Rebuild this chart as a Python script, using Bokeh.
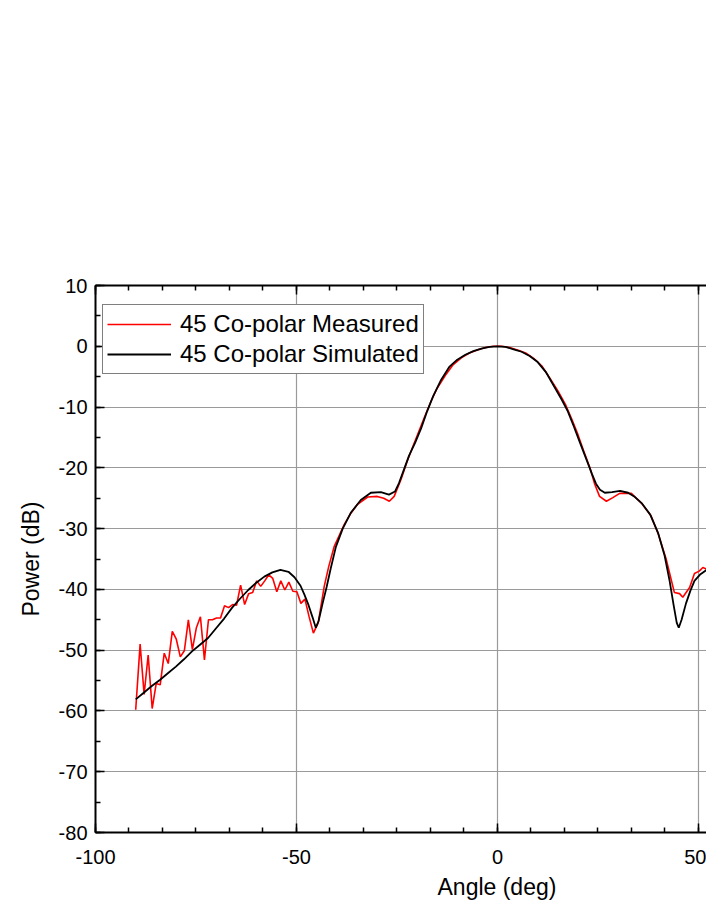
from bokeh.plotting import figure
from bokeh.models import (ColumnDataSource, LinearAxis, SingleIntervalTicker, Legend, LegendItem, Title,
                          Range1d, CustomJSTickFormatter)
from bokeh.embed import file_html
from bokeh.resources import INLINE

# ---- data ----
sim_angle = [-90, -88, -86, -84, -82, -80, -78, -76, -74, -72, -70, -68, -66, -64, -62, -60, -58, -56, -54,
             -52, -50.5, -49, -48, -47, -46, -45.2, -44.5, -43.5, -42.5, -41.5, -40.2, -38.5, -36.5, -34,
             -31.5, -29, -27, -25.5, -24.5, -23.5, -22, -20.5, -19, -17.5, -16, -14, -12, -10, -8, -6, -4,
             -2, 0, 2, 4, 6, 8, 10, 12, 14, 16, 17.5, 19, 20.5, 22, 23.5, 24.5, 25.5, 26.7, 28.5, 30.5,
             32.5, 34, 36, 38, 40, 41.6, 42.8, 43.8, 44.6, 45.1, 45.8, 46.9, 48, 49, 50.5, 52]
sim_power = [-58.1, -57.0, -55.9, -54.9, -53.8, -52.7, -51.5, -50.2, -49.1, -48.0, -46.4, -44.8, -43.0,
             -41.5, -40.1, -38.9, -37.9, -37.2, -36.8, -37.1, -38.0, -39.4, -40.9, -42.6, -44.6, -46.3,
             -45.2, -42.3, -39.6, -36.6, -33.0, -30.0, -27.4, -25.3, -24.1, -24.0, -24.4, -23.9, -22.5,
             -20.7, -18.0, -15.9, -13.5, -10.7, -8.2, -5.5, -3.4, -2.2, -1.4, -0.8, -0.4, -0.1, 0.0, -0.1,
             -0.5, -0.9, -1.6, -2.6, -4.2, -6.5, -8.8, -10.7, -13.2, -15.8, -18.4, -21.0, -22.6, -23.6,
             -24.1, -24.0, -23.8, -24.1, -24.7, -25.9, -27.7, -30.8, -34.5, -38.5, -42.5, -45.5, -46.3,
             -45.0, -42.3, -40.2, -38.6, -37.5, -36.8]

meas_angle = [-90, -88.9, -87.9, -86.9, -85.9, -84.9, -83.9, -82.9, -81.9, -80.9, -79.9, -78.9, -77.9,
              -76.9, -75.9, -74.9, -73.9, -72.9, -71.9, -70.9, -69.9, -68.9, -67.9, -66.9, -65.9, -64.9,
              -63.9, -62.9, -61.9, -60.9, -59.9, -58.9, -57.9, -56.9, -55.9, -54.9, -53.9, -52.9, -51.9,
              -50.9, -49.9, -48.9, -47.9, -46.9, -45.8, -44.6, -43.1, -42.0, -40.6, -38.1, -36.5, -34.8,
              -32.3, -29.9, -28.3, -26.9, -25.7, -24.0, -22.5, -21.0, -19.5, -18, -16.5, -15, -13, -11, -9,
              -7, -5, -3, -1, 1, 3, 5, 7, 9, 11, 13, 15, 17, 18.5, 20, 21.5, 23, 24.2, 25.4, 27.1, 28.7,
              30.4, 33.3, 35.8, 38.2, 39.9, 42.0, 44.0, 45.3, 46.1, 47.8, 49.0, 50.2, 51.1, 52.2]
meas_power = [-59.8, -49.0, -57.3, -50.8, -59.6, -55.5, -55.7, -50.5, -52.2, -46.9, -48.2, -51.1, -50.1,
              -45.0, -49.9, -46.3, -44.5, -51.6, -45.0, -45.0, -44.7, -44.7, -42.7, -43.0, -42.5, -42.6,
              -39.3, -42.5, -40.7, -40.5, -38.6, -39.5, -38.6, -37.6, -38.2, -40.4, -38.6, -40.1, -38.8,
              -40.3, -40.4, -42.3, -41.6, -44.4, -47.2, -45.5, -39.5, -36.3, -32.9, -29.3, -27.5, -26.0,
              -24.8, -24.7, -25.0, -25.5, -24.7, -21.9, -19.0, -16.4, -13.9, -11.4, -9.0, -6.9, -4.8, -3.0,
              -1.9, -1.1, -0.6, -0.2, 0.0, 0.0, -0.2, -0.6, -1.1, -2.0, -3.2, -5.2, -7.3, -9.7, -12.0,
              -14.5, -17.3, -20.0, -22.7, -24.7, -25.5, -24.9, -24.2, -24.2, -25.8, -27.9, -30.7, -35.1,
              -40.5, -40.7, -41.3, -39.7, -37.4, -37.0, -36.4, -36.7]

x_ticks_interval = 50
y_ticks_interval = 10
x_label = "Angle (deg)"
y_label = "Power (dB)"
meas_name = "45 Co-polar Measured"
sim_name = "45 Co-polar Simulated"

FONT = "Liberation Sans"

p = figure(width=706, height=910, output_backend="svg", toolbar_location=None,
           x_range=Range1d(-100, 52), y_range=Range1d(-80, 10),
           min_border_left=95, min_border_right=0, min_border_top=285, min_border_bottom=78)
p.outline_line_color = None
p.background_fill_color = "white"
p.border_fill_color = "white"

xt = SingleIntervalTicker(interval=x_ticks_interval, num_minor_ticks=6)
yt = SingleIntervalTicker(interval=y_ticks_interval, num_minor_ticks=2)
p.xaxis.ticker = xt
p.yaxis.ticker = yt
p.xaxis.formatter = CustomJSTickFormatter(code="return tick.toFixed(0);")
p.yaxis.formatter = CustomJSTickFormatter(code="return tick.toFixed(0);")
p.xgrid.ticker = xt
p.ygrid.ticker = yt
for g in (p.xgrid, p.ygrid):
    g.grid_line_color = "#9a9a9a"
    g.grid_line_width = 1.2

def style_axis(ax):
    ax.axis_line_width = 2
    ax.axis_line_color = "black"
    ax.major_tick_in = 9
    ax.major_tick_out = 0
    ax.minor_tick_in = 5
    ax.minor_tick_out = 0
    ax.major_tick_line_width = 1.5
    ax.minor_tick_line_width = 1.5
    ax.major_tick_line_color = "black"
    ax.minor_tick_line_color = "black"
    ax.major_label_text_font = FONT
    ax.major_label_text_font_size = "20px"
    ax.major_label_text_color = "black"
    ax.axis_label_text_font = FONT
    ax.axis_label_text_font_size = "23px"
    ax.axis_label_text_font_style = "normal"
    ax.axis_label_text_color = "black"

style_axis(p.xaxis[0])
style_axis(p.yaxis[0])
p.xaxis.major_label_standoff = 17
p.yaxis.major_label_standoff = 8
p.yaxis.axis_label = y_label
p.yaxis.axis_label_standoff = 12

top = LinearAxis(ticker=xt, formatter=CustomJSTickFormatter(code="return '';"))
style_axis(top)
top.major_label_standoff = 0
p.add_layout(top, "above")

src_m = ColumnDataSource(dict(x=meas_angle, y=meas_power))
src_s = ColumnDataSource(dict(x=sim_angle, y=sim_power))
r_m = p.line("x", "y", source=src_m, line_color="#ff0000", line_width=1.6)
r_s = p.line("x", "y", source=src_s, line_color="black", line_width=1.8)

legend = Legend(items=[LegendItem(label=meas_name, renderers=[r_m]),
                       LegendItem(label=sim_name, renderers=[r_s])],
                location=(7, 458), margin=0, padding=4, spacing=0,
                glyph_width=64, glyph_height=30, label_height=30, label_width=238, label_standoff=9,
                label_text_font=FONT, label_text_font_size="24px", label_text_color="black",
                border_line_color="black", border_line_width=1,
                background_fill_color="white", background_fill_alpha=1)
p.add_layout(legend)

xtitle = Title(text=x_label, align="left", offset=342, standoff=11,
               text_font=FONT, text_font_size="23px", text_font_style="normal", text_color="black")
p.add_layout(xtitle, "below")

open("out.html", "w").write(file_html(p, INLINE))
